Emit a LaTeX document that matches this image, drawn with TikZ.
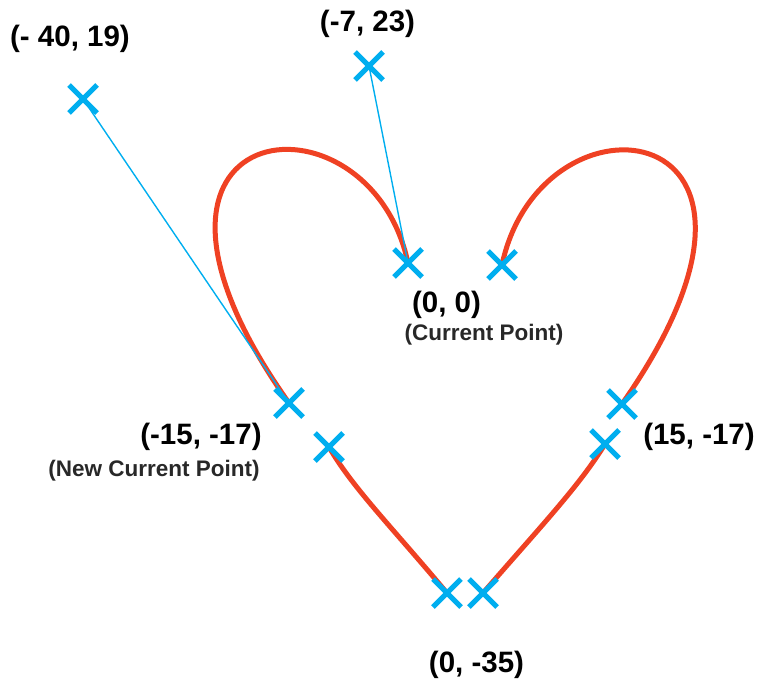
\documentclass[tikz,border=0pt]{standalone}
\usepackage{fontspec}
\setmainfont{Liberation Sans}
\usetikzlibrary{shapes.misc}
\definecolor{markblue}{RGB}{0,174,239}
\definecolor{heartred}{RGB}{239,65,35}
\definecolor{subgray}{RGB}{40,40,40}
\tikzset{
  xmark/.style={draw=markblue, cross out, line width=5pt, minimum size=23pt, inner sep=0pt},
  heartline/.style={draw=heartred, line width=5pt},
  guideline/.style={draw=markblue, line width=1.4pt},
  biglabel/.style={anchor=base, inner sep=0pt, font=\fontsize{29.5}{31}\selectfont\bfseries},
  sublabel/.style={anchor=base, inner sep=0pt, text=subgray, font=\fontsize{22.5}{24}\selectfont\bfseries},
}
\begin{document}
\begin{tikzpicture}[x=1pt, y=-1pt]
\useasboundingbox (0,0) rectangle (761,685);
% mark positions (named coordinates)
\coordinate (a) at (408,263);
\coordinate (b) at (502,265);
\coordinate (c1) at (369,66);
\coordinate (c2) at (83,99);
\coordinate (d) at (289,403);
\coordinate (e) at (329,447);
\coordinate (f) at (447,593);
\coordinate (g) at (483,593);
\coordinate (h) at (605,444);
\coordinate (i) at (622,404);
% curves
\path[heartline] (a) .. controls (369,80) and (83,112) .. (d);
\path[heartline] (b) .. controls (541,80) and (827,112) .. (i);
\path[heartline] (e) .. controls (352,487) and (390,525) .. (f);
\path[heartline] (h) .. controls (580,485) and (542,525) .. (g);
% guides
\path[guideline] (c1) -- (a);
\path[guideline] (c2) -- (d);
% marks on top
\foreach \n in {a,b,c1,c2,d,e,f,g,h,i}{
  \node[xmark] (m\n) at (\n) {};
}
% labels
\node[biglabel] (l1) at (70,47) {(- 40, 19)};
\node[biglabel] (l2) at (367.5,32) {(-7, 23)};
\node[biglabel] (l3) at (446.5,312) {(0, 0)};
\node[sublabel] (l4) at (484,340) {(Current Point)};
\node[biglabel] (l5) at (201,444) {(-15, -17)};
\node[sublabel] (l6) at (154,476) {(New Current Point)};
\node[biglabel] (l7) at (699,444) {(15, -17)};
\node[biglabel] (l8) at (476.5,672) {(0, -35)};
\end{tikzpicture}
\end{document}
